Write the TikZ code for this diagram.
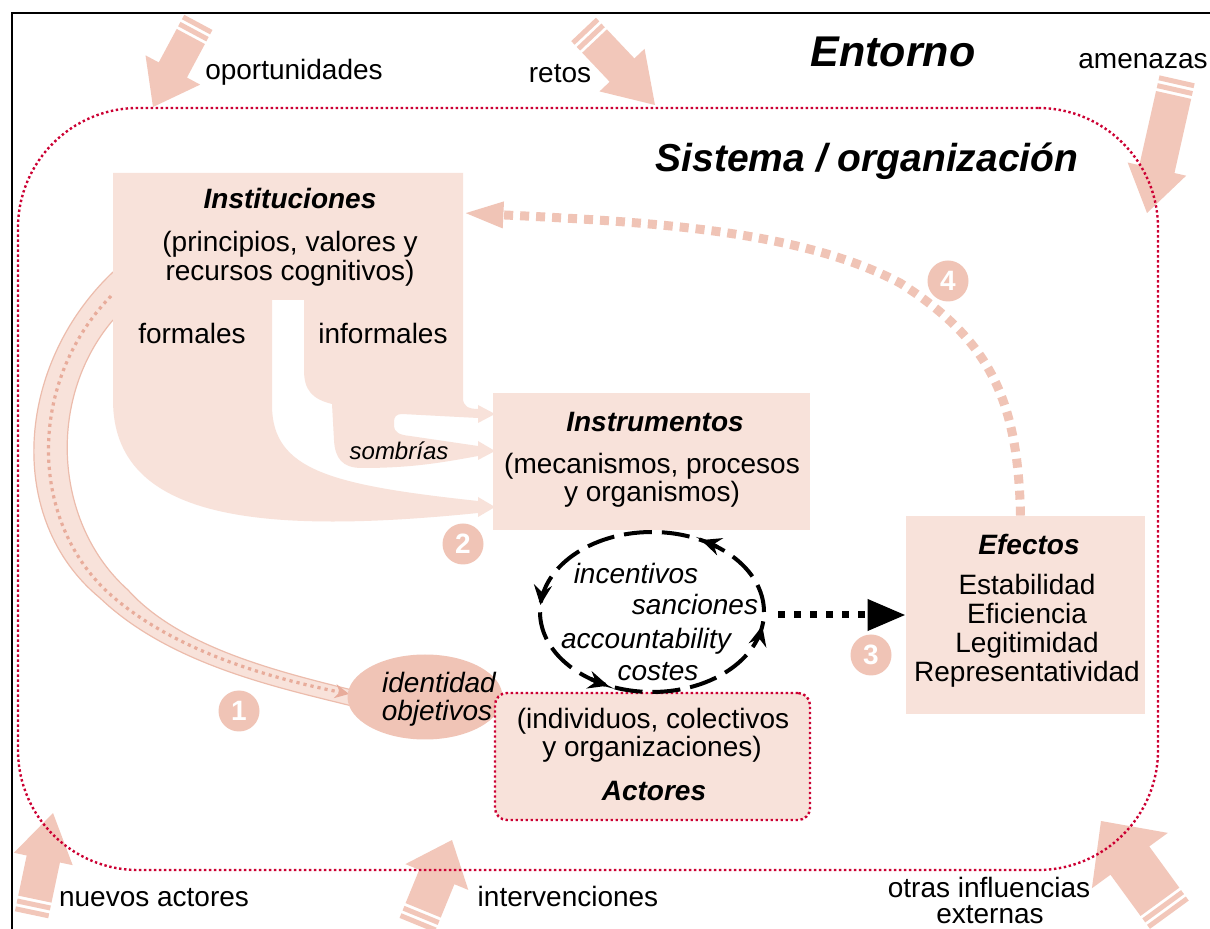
\documentclass[tikz,border=0pt]{standalone}
\usepackage{fontspec}
\setmainfont{Liberation Sans}
\usetikzlibrary{shapes.geometric,arrows.meta}
\definecolor{boxpink}{RGB}{248,226,218}
\definecolor{deeppink}{RGB}{240,196,182}
\definecolor{arrowpink}{RGB}{242,199,186}
\definecolor{crimson}{RGB}{204,0,51}
\definecolor{bandline}{RGB}{236,188,172}
\definecolor{banddots}{RGB}{232,172,155}
\newcommand\fs{\fontsize{14}{17}\selectfont}
% tip x, tip y, angle, length, head length, head half width, shaft half width
\newcommand{\entarrow}[7]{%
  \begin{scope}[shift={(#1,#2)},rotate=#3]
    \fill[arrowpink] (0,0) -- (-#5,#6) -- (-#5,#7) -- ({-#4+16},#7) -- ({-#4+16},-#7) -- (-#5,-#7) -- (-#5,-#6) -- cycle;
    \fill[arrowpink] ({-#4+13},#7) rectangle ({-#4+8},-#7);
    \fill[arrowpink] ({-#4+5},#7) rectangle ({-#4},-#7);
  \end{scope}}
\begin{document}
\begin{tikzpicture}[x=0.5pt,y=-0.5pt,
  txt/.style={inner sep=0pt, font=\fs, anchor=base},
  ttl/.style={txt, font=\fs\bfseries\itshape},
  itx/.style={txt, font=\fs\itshape},
  numc/.style={circle, fill=deeppink, minimum size=20.5pt, inner sep=0pt, text=white, font=\fs\bfseries},
  pinkbox/.style={rectangle, fill=boxpink, inner sep=0pt},
  reddots/.style={draw=crimson, line width=1.2pt, dash pattern=on 1.2pt off 1.3pt}]
\useasboundingbox (0,0) rectangle (1210,929);
\clip (0,0) rectangle (1210,929);
\fill[white] (0,0) rectangle (1210,929);
\draw[line width=1pt] (12,960) -- (12,13) -- (1240,13);

% environment arrows
\entarrow{153}{107}{-118.2}{96}{42}{31}{16}
\entarrow{655}{105}{-46.6}{104}{48}{31}{17}
\entarrow{1147}{213}{-102.7}{137}{45}{30}{18}
\entarrow{53}{813}{78.1}{104}{47}{30}{17}
\entarrow{452}{840}{67.7}{92}{40}{34}{19}
\entarrow{1101}{821}{126.1}{116}{49}{47}{24}

% system boundary
\node[reddots, rounded corners=60pt, minimum width=570pt, minimum height=381pt, inner sep=0pt] (sys) at (588,489) {};

% band 1
\fill[boxpink, draw=bandline, line width=0.6pt]
  (113,272) .. controls (15,365) and (5,520) .. (100,598)
  .. controls (170,665) and (280,688) .. (352,706) -- (352,690)
  .. controls (280,672) and (180,648) .. (128,590)
  .. controls (55,525) and (45,400) .. (113,320);
\draw[banddots, line width=1.6pt, dash pattern=on 1.6pt off 2pt, -{Stealth[length=7pt,width=7pt]}]
  (111,296) .. controls (25,385) and (30,525) .. (112,596)
  .. controls (180,655) and (280,680) .. (349,694);

% Instituciones flow shape
\fill[boxpink] (113,173) -- (463,173) -- (463,398)
  .. controls (463,406) and (468,409) .. (478,409)
  -- (478,405) -- (495,414) -- (478,423) -- (478,418)
  -- (402,414) .. controls (396,414) and (394,417) .. (394,422)
  -- (394,426) .. controls (394,432) and (399,435) .. (410,436)
  -- (478,446) -- (478,441) -- (495,451) -- (478,460) -- (478,456)
  .. controls (440,463) and (410,468) .. (362,468)
  .. controls (342,468) and (335,458) .. (334,440)
  -- (332,404) .. controls (312,399) and (304,390) .. (304,370)
  -- (304,300) -- (272,300) -- (272,405)
  .. controls (272,470) and (330,485) .. (478,501)
  -- (478,497) -- (495,507) -- (478,517) -- (478,513)
  .. controls (260,535) and (113,520) .. (113,400) -- cycle;
\node[inner sep=0pt, minimum width=175pt, minimum height=63.5pt] (inst) at (288,236.5) {};

% boxes
\node[pinkbox, minimum width=158.5pt, minimum height=68.5pt] (instr) at (651.5,461.5) {};
\node[pinkbox, minimum width=119.5pt, minimum height=99pt] (eff) at (1025.5,615) {};
\node[ellipse, fill=deeppink, minimum width=77.5pt, minimum height=42.5pt, inner sep=0pt] (idn) at (425,697) {};
\node[pinkbox, reddots, rounded corners=6pt, minimum width=157.5pt, minimum height=63.5pt] (act) at (652.5,756.5) {};

% cycle
\node[ellipse, draw, line width=2pt, dash pattern=on 14pt off 5pt, minimum width=112pt, minimum height=80pt, inner sep=0pt] (cyc) at (652,612) {};
\foreach \t in {64,175,247,350}{
  \draw[line width=2pt, -{Stealth[length=10pt,width=9pt,inset=3.5pt]}]
    ([shift={(\t-10:56pt and 40pt)}]cyc.center) arc[start angle=\t-10, end angle=\t, x radius=56pt, y radius=40pt];
}

% connectors
\draw[line width=3.5pt, dash pattern=on 3.5pt off 4.5pt, -{Triangle[length=19pt,width=15pt]}]
  ([xshift=6pt]cyc.east |- eff.west) -- (eff.west);
\draw[deeppink, line width=4.5pt, dash pattern=on 4.5pt off 3.5pt, -{Triangle[length=20pt,width=12pt]}]
  ([xshift=-2.5pt]eff.north) .. controls (1018,400) and (990,340) .. (900,283)
  .. controls (800,230) and (650,222) .. ([yshift=11.75pt]inst.east);

% numbers
\node[numc] (n1) at (239,711) {1};
\node[numc] (n2) at (463,544) {2};
\node[numc] (n3) at (871,655) {3};
\node[numc] (n4) at (948,281) {4};

% titles
\node[txt, font=\fontsize{21.5}{25}\selectfont\bfseries\itshape] (tent) at (893,67) {Entorno};
\node[txt, font=\fontsize{19.5}{23}\selectfont\bfseries\itshape] (tsys) at (867,172) {Sistema / organización};

% environment labels
\node[txt] (lop) at (294,80) {oportunidades};
\node[txt] (lre) at (560,83) {retos};
\node[txt] (lam) at (1143,69) {amenazas};
\node[txt] (lnu) at (154,906) {nuevos actores};
\node[txt] (lin) at (568,906) {intervenciones};
\node[txt] (lot1) at (989,897) {otras influencias};
\node[txt] (lot2) at (990,923) {externas};

% Instituciones texts
\node[ttl] (ti1) at (290,209) {Instituciones};
\node[txt] (ti2) at (290,252) {(principios, valores y};
\node[txt] (ti3) at (290,281) {recursos cognitivos)};
\node[txt] (tfo) at (192,344) {formales};
\node[txt] (tif) at (383,344) {informales};
\node[txt, font=\fontsize{12}{14}\selectfont\itshape] (tso) at (399,460) {sombrías};

% Instrumentos texts
\node[ttl] (tm1) at (655,432) {Instrumentos};
\node[txt] (tm2) at (652,474) {(mecanismos, procesos};
\node[txt] (tm3) at (652,502) {y organismos)};

% Efectos texts
\node[ttl] (te1) at (1029,555) {Efectos};
\node[txt] (te2) at (1027,595) {Estabilidad};
\node[txt] (te3) at (1027,624) {Eficiencia};
\node[txt] (te4) at (1027,653) {Legitimidad};
\node[txt] (te5) at (1027,682) {Representatividad};

% cycle texts
\node[itx] (tc1) at (636,584) {incentivos};
\node[itx] (tc2) at (695,615) {sanciones};
\node[itx] (tc3) at (646,649) {accountability};
\node[itx] (tc4) at (658,681) {costes};

% identidad texts
\node[itx] (td1) at (439,693) {identidad};
\node[itx] (td2) at (437,721) {objetivos};

% Actores texts
\node[txt] (ta1) at (653,729) {(individuos, colectivos};
\node[txt] (ta2) at (652,757) {y organizaciones)};
\node[ttl] (ta3) at (654,800) {Actores};
\end{tikzpicture}
\end{document}
